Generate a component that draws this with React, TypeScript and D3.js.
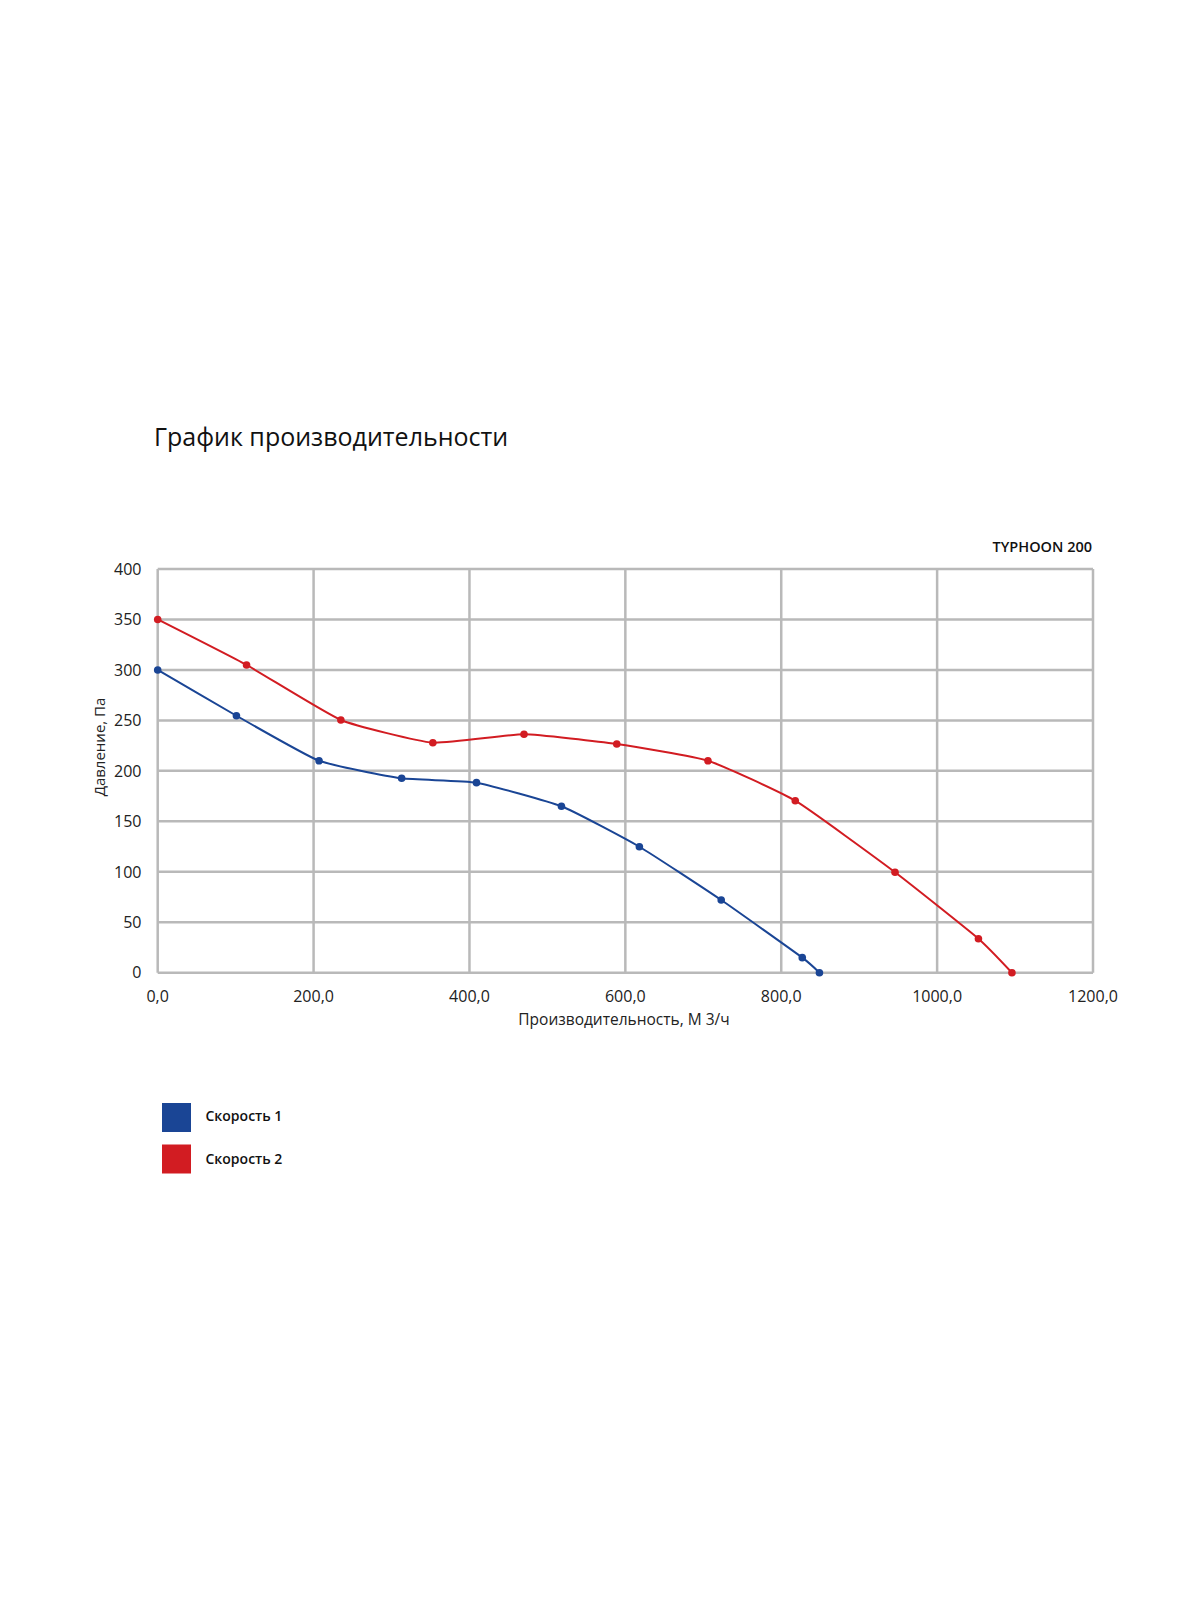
import React from "react";
import * as d3 from "d3";

const title = "График производительности";
const modelLabel = "TYPHOON 200";
const xAxisTitle = "Производительность, М 3/ч";
const yAxisTitle = "Давление, Па";

const xTicks = [0, 200, 400, 600, 800, 1000, 1200];
const yTicks = [0, 50, 100, 150, 200, 250, 300, 350, 400];

const speed1X = [0, 101, 207, 313, 409, 518, 618, 723, 827, 849];
const speed1Y = [300, 254.6, 210, 192.6, 188.3, 164.9, 124.8, 72, 14.9, 0];

const speed2X = [0, 114, 235, 353, 470, 589, 706, 818, 946, 1053, 1096];
const speed2Y = [350, 304.9, 250.4, 227.9, 236.2, 226.6, 210, 170.4, 99.5, 33.7, 0];

const seriesNames = ["Скорость 1", "Скорость 2"];
const seriesColors = ["#1a4595", "#d21c22"];

const FONT = "'Open Sans', 'DejaVu Sans', sans-serif";

export default function App() {
  const left = 157.7;
  const right = 1093;
  const top = 569;
  const bottom = 972.7;

  const x = d3.scaleLinear().domain([0, 1200]).range([left, right]);
  const y = d3.scaleLinear().domain([0, 400]).range([bottom, top]);

  const line = d3
    .line<[number, number]>()
    .x((d) => x(d[0]))
    .y((d) => y(d[1]))
    .curve(d3.curveCardinal.tension(0.55));

  const series = [
    speed1X.map((v, i) => [v, speed1Y[i]] as [number, number]),
    speed2X.map((v, i) => [v, speed2Y[i]] as [number, number]),
  ];

  const gridColor = "#b9b9b9";

  return (
    <svg
      width={1200}
      height={1600}
      style={{ position: "absolute", left: 0, top: 0, background: "#fff" }}
      fontFamily={FONT}
    >
      <rect x={0} y={0} width={1200} height={1600} fill="#fff" />
      <text x={154} y={446} fontSize={25} fontWeight={500} fill="#111">
        {title}
      </text>
      <text
        x={1092}
        y={551.5}
        fontSize={14.5}
        fontWeight={600}
        textAnchor="end"
        fill="#111"
      >
        {modelLabel}
      </text>

      {/* grid */}
      {yTicks.map((t) => (
        <line
          key={"gy" + t}
          x1={left}
          x2={right}
          y1={y(t)}
          y2={y(t)}
          stroke={gridColor}
          strokeWidth={2.5}
        />
      ))}
      {xTicks.map((t) => (
        <line
          key={"gx" + t}
          x1={x(t)}
          x2={x(t)}
          y1={top}
          y2={bottom}
          stroke={gridColor}
          strokeWidth={2.5}
        />
      ))}

      {/* y tick labels */}
      {yTicks.map((t) => (
        <text
          key={"ly" + t}
          x={141.5}
          y={y(t)}
          dy="0.36em"
          textAnchor="end"
          fontSize={16}
          fill="#222"
        >
          {t}
        </text>
      ))}
      {/* x tick labels */}
      {xTicks.map((t) => (
        <text
          key={"lx" + t}
          x={x(t)}
          y={1002}
          textAnchor="middle"
          fontSize={16}
          fill="#222"
        >
          {d3.format(".1f")(t).replace(".", ",")}
        </text>
      ))}

      <text x={624} y={1025} textAnchor="middle" fontSize={15.5} fill="#222">
        {xAxisTitle}
      </text>
      <text
        transform={`translate(100,747) rotate(-90)`}
        textAnchor="middle"
        dy="0.36em"
        fontSize={15}
        fill="#222"
      >
        {yAxisTitle}
      </text>

      {/* series */}
      {series.map((s, i) => (
        <g key={"s" + i}>
          <path
            d={line(s) || ""}
            fill="none"
            stroke={seriesColors[i]}
            strokeWidth={2}
          />
          {s.map((p, j) => (
            <circle
              key={j}
              cx={x(p[0])}
              cy={y(p[1])}
              r={3.8}
              fill={seriesColors[i]}
            />
          ))}
        </g>
      ))}

      {/* legend */}
      {seriesNames.map((n, i) => (
        <g key={"lg" + i}>
          <rect
            x={162}
            y={1103 + i * 41.5}
            width={29}
            height={29}
            fill={seriesColors[i]}
          />
          <text
            x={205.5}
            y={1120.5 + i * 43}
            fontSize={14}
            fontWeight={600}
            fill="#111"
          >
            {n}
          </text>
        </g>
      ))}
    </svg>
  );
}
